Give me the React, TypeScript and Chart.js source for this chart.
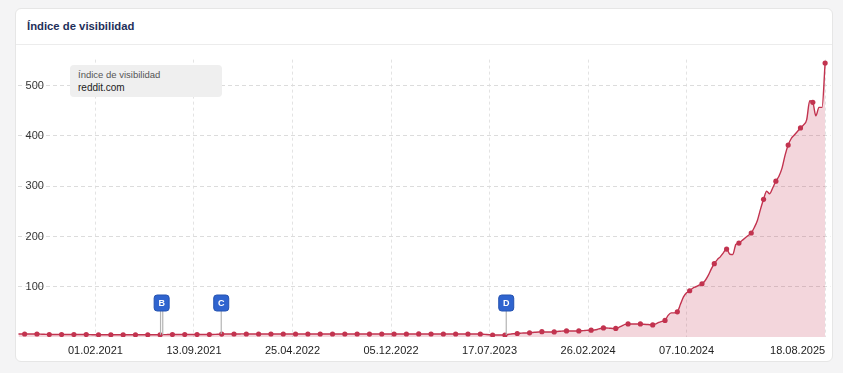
import { useEffect, useRef } from 'react';
import { Chart, registerables } from 'chart.js';

Chart.register(...registerables);

// Weekly visibility index (Mondays), first week 2020-08-10
const firstWeek = '2020-08-10';
const visibility2020 = [6, 6, 6, 6, 6, 6, 6, 5.8, 5.5, 5.2, 5, 5, 5, 5, 5, 5, 5, 5, 5, 5, 5];
const visibility2021 = [
  5, 5, 4.8, 4.5, 4.5, 4.5, 4.5, 4.5, 4.5, 4.5, 4.5, 4.5, 4.5, 4.5, 4.5, 4.5, 4.5, 4.5, 4.5, 4.5,
  4.5, 4.5, 4.5, 4.5, 4.5, 4.5, 4.7, 4.8, 5, 5, 5, 5, 5, 5, 5, 5, 5, 5, 5, 5,
  5, 5, 5, 5.2, 5.5, 5.8, 6, 6, 6, 6, 6, 6.1,
];
const visibility2022 = [
  6.2, 6, 6, 6, 6.1, 6, 5.9, 6, 6, 6, 6, 6, 6.1, 6, 6, 5.9, 6, 6, 6, 6,
  6, 6, 6, 6.1, 6, 6, 6, 6, 5.9, 6, 6, 6, 6, 6, 6.1, 6, 6, 6, 6, 6,
  6, 5.9, 6, 6, 6, 6, 6, 6, 6, 6, 6, 6,
];
const visibility2023 = [
  6, 6, 6, 6, 6, 6.1, 6, 6, 6, 6, 6, 6, 5.9, 6, 6, 6, 6, 6, 6, 6,
  6, 6, 6, 6, 6, 6, 5.5, 5, 4.5, 4, 4, 4, 4, 4, 5, 6, 6.5, 7, 7.5, 8,
  8, 8.3, 9, 9.5, 10, 10.5, 10, 10, 10, 10, 11, 11.5,
];
const visibility2024 = [
  12, 12, 12, 12, 12, 12, 12.5, 13, 13.5, 13.5, 14, 15, 17, 18, 18, 17.5, 17, 17, 19, 22,
  25, 26, 26, 26, 26, 26, 25.5, 25, 24.5, 24, 26, 29, 31, 33, 43, 48, 48, 50, 65, 80,
  88, 92, 97, 100, 103, 106, 112, 122, 135, 146, 154, 160, 168,
];
const visibility2025 = [
  175, 165, 164, 184, 187, 192, 197, 202, 207, 218, 232, 254, 274, 290, 285, 297, 310, 320, 336, 362,
  382, 395, 402, 409, 416, 422, 432, 470, 467, 440, 457, 457, 545,
];

const xTickLabels = ['01.02.2021', '13.09.2021', '25.04.2022', '05.12.2022', '17.07.2023', '26.02.2024', '07.10.2024', '18.08.2025'];
const yTickValues = [100, 200, 300, 400, 500];
const events = [
  { label: 'B', dates: ['2021-06-29', '2021-07-04'] },
  { label: 'C', dates: ['2021-11-14'] },
  { label: 'D', dates: ['2023-08-24'] },
];
const axisStart = '2020-08-08';
const axisEnd = '2025-08-30';
const yMax = 552;

const FONT = '"Liberation Sans", Arial, Helvetica, sans-serif';
const DAY = 86400000;
const parseIso = (s: string) => Date.UTC(+s.slice(0, 4), +s.slice(5, 7) - 1, +s.slice(8, 10));
const parseDmy = (s: string) => Date.UTC(+s.slice(6, 10), +s.slice(3, 5) - 1, +s.slice(0, 2));

const values = [...visibility2020, ...visibility2021, ...visibility2022, ...visibility2023, ...visibility2024, ...visibility2025];
const t0 = parseIso(firstWeek);
const points = values.map((v, i) => ({ x: t0 + i * 7 * DAY, y: v }));

const overlayPlugin = {
  id: 'overlay',
  afterDraw(chart: any) {
    const { ctx, chartArea } = chart;
    const xs = chart.scales.x;
    const ys = chart.scales.y;
    ctx.save();
    // x labels
    ctx.font = `11px ${FONT}`;
    ctx.fillStyle = '#222';
    ctx.textBaseline = 'middle';
    ctx.textAlign = 'left';
    xTickLabels.forEach((lab) => {
      const px = xs.getPixelForValue(parseDmy(lab));
      const w = ctx.measureText(lab).width;
      let left = px - w / 2;
      if (px + w / 2 > chartArea.right - 2) left = px - w;
      ctx.fillText(lab, left, chartArea.bottom + 14);
    });
    // event flags
    const boxW = 15;
    const boxH = 16;
    const boxTop = chartArea.bottom - 42;
    events.forEach((ev) => {
      const pxs = ev.dates.map((d) => xs.getPixelForValue(parseIso(d)));
      ctx.strokeStyle = '#b4b4b4';
      ctx.lineWidth = 1.2;
      ev.dates.forEach((d, i) => {
        const idx = Math.round((parseIso(d) - t0) / (7 * DAY));
        const yl = ys.getPixelForValue(values[Math.max(0, Math.min(values.length - 1, idx))]);
        ctx.beginPath();
        ctx.moveTo(pxs[i], boxTop + boxH);
        ctx.lineTo(pxs[i], yl);
        ctx.stroke();
      });
      const cx = pxs.reduce((a, b) => a + b, 0) / pxs.length;
      ctx.beginPath();
      ctx.roundRect(cx - boxW / 2, boxTop, boxW, boxH, 3);
      ctx.fillStyle = '#2f64cf';
      ctx.fill();
      ctx.strokeStyle = '#2452b0';
      ctx.lineWidth = 1;
      ctx.stroke();
      ctx.fillStyle = '#fff';
      ctx.font = `bold 9px ${FONT}`;
      ctx.textAlign = 'center';
      ctx.textBaseline = 'middle';
      ctx.fillText(ev.label, cx, boxTop + boxH / 2 + 0.5);
    });
    ctx.restore();
  },
};

export default function App() {
  const ref = useRef<HTMLCanvasElement | null>(null);
  useEffect(() => {
    if (!ref.current) return;
    const chart = new Chart(ref.current, {
      type: 'line',
      data: {
        datasets: [
          {
            label: 'reddit.com',
            data: points,
            borderColor: '#c2334f',
            backgroundColor: 'rgba(194, 51, 79, 0.2)',
            borderWidth: 1.4,
            fill: 'origin',
            cubicInterpolationMode: 'monotone',
            pointRadius: (c: any) => ((c.dataIndex - 2) % 4 === 0 ? 2.6 : 0),
            pointBackgroundColor: '#c2334f',
            pointBorderWidth: 0,
            pointHoverRadius: 0,
          },
        ],
      },
      options: {
        responsive: false,
        animation: false,
        layout: { padding: { top: 5, bottom: 25, left: 0, right: 0 } },
        plugins: { legend: { display: false }, tooltip: { enabled: false } },
        events: [],
        scales: {
          x: {
            type: 'linear',
            min: parseIso(axisStart),
            max: parseIso(axisEnd),
            afterFit: (s: any) => {
              s.height = 0;
            },
            afterBuildTicks: (s: any) => {
              s.ticks = xTickLabels.map((l) => ({ value: parseDmy(l) }));
            },
            border: { display: false, dash: [3, 3] },
            grid: { color: '#e3e3e3', drawTicks: false, lineWidth: 1 },
            ticks: { display: false },
          },
          y: {
            min: 0,
            max: yMax,
            afterFit: (s: any) => {
              s.width = 0;
            },
            afterBuildTicks: (s: any) => {
              s.ticks = yTickValues.map((v) => ({ value: v }));
            },
            border: { display: false, dash: [4, 3] },
            grid: { color: '#dcdcdc', drawTicks: false, lineWidth: 1 },
            ticks: {
              mirror: true,
              padding: 8,
              color: '#333',
              font: { size: 11, family: FONT },
            },
          },
        },
      },
      plugins: [overlayPlugin],
    } as any);
    return () => chart.destroy();
  }, []);

  return (
    <div style={{ position: 'relative', width: 843, height: 373, background: '#f4f4f5', fontFamily: FONT, overflow: 'hidden' }}>
      <style>{`body{margin:0;background:#f4f4f5}`}</style>
      <div
        style={{
          position: 'absolute',
          left: 15,
          top: 8,
          width: 818,
          height: 354,
          boxSizing: 'border-box',
          background: '#fff',
          border: '1px solid #e6e6e6',
          borderRadius: 6,
        }}
      />
      <div style={{ position: 'absolute', left: 27, top: 18, fontSize: 11.3, fontWeight: 700, color: '#1e2f5a', lineHeight: '16px' }}>
        Índice de visibilidad
      </div>
      <div style={{ position: 'absolute', left: 16, top: 44, width: 816, height: 1, background: '#ececec' }} />
      <canvas ref={ref} width={818} height={317} style={{ position: 'absolute', left: 15, top: 45, width: 818, height: 317 }} />
      <div
        style={{
          position: 'absolute',
          left: 70,
          top: 65,
          width: 152,
          height: 32,
          background: '#efefef',
          borderRadius: 4,
        }}
      >
        <div style={{ position: 'absolute', left: 8, top: 4, fontSize: 9.5, color: '#555', lineHeight: '12px', whiteSpace: 'nowrap' }}>
          Índice de visibilidad
        </div>
        <div style={{ position: 'absolute', left: 8, top: 17, fontSize: 10, color: '#222', lineHeight: '12px', whiteSpace: 'nowrap' }}>
          reddit.com
        </div>
      </div>
    </div>
  );
}
